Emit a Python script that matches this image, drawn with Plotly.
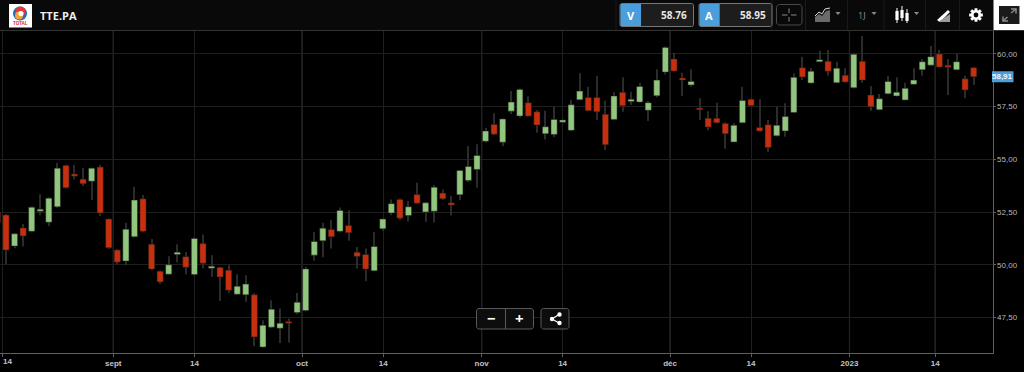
import math
import plotly.graph_objects as go

W, H = 1024, 372

# Daily sessions, mid-August 2022 to January 2023
open_ = [52.50,52.36,50.89,51.75,51.59,52.54,52.02,52.75,54.71,54.30,54.06,53.96,54.63,52.17,50.70,50.18,51.33,53.13,50.98,49.70,
         49.56,50.49,50.39,49.54,51.01,49.84,49.88,49.75,48.61,48.58,48.58,46.11,47.05,47.00,47.32,47.74,47.84,50.46,51.14,51.68,
         51.59,51.87,50.60,50.49,49.72,51.71,52.46,53.10,52.34,53.33,52.51,52.54,53.40,52.94,53.32,54.00,54.52,55.85,56.65,55.81,
         57.28,57.05,57.68,57.25,56.21,56.18,56.76,56.37,57.82,57.93,57.93,57.13,56.89,58.17,57.74,57.71,57.32,58.01,59.13,59.75,
         58.85,58.52,57.43,56.94,56.94,56.70,55.82,56.73,57.84,56.51,56.64,56.11,56.34,57.22,59.34,58.61,59.62,59.64,58.63,58.98,
         58.39,59.64,58.04,57.35,58.10,58.00,57.81,58.55,59.24,59.46,59.99,59.46,59.24,58.81,59.34]
high = [52.55,52.41,51.50,51.93,52.78,53.35,53.20,54.82,54.75,54.73,54.60,54.60,54.73,52.20,50.75,51.99,53.70,53.31,51.22,49.75,
        50.41,50.98,50.61,51.30,51.44,50.45,49.91,50.00,49.56,49.51,48.67,47.38,48.33,47.93,47.46,48.67,49.91,51.56,51.99,52.12,
        52.72,52.59,50.85,50.78,51.56,52.20,53.10,53.15,53.03,53.89,52.97,53.78,53.57,53.26,54.50,55.63,55.71,56.48,57.18,56.95,
        58.23,58.35,57.99,57.33,57.30,57.49,56.90,57.81,59.07,58.44,58.96,57.77,58.20,58.88,58.20,58.63,57.76,59.26,60.35,60.05,
        59.10,59.26,57.89,57.28,57.68,56.75,56.72,58.44,57.88,57.84,56.86,57.49,57.65,59.07,59.86,59.31,60.14,60.18,59.62,59.31,
        60.05,60.84,58.47,58.09,58.94,58.88,58.63,59.31,59.75,60.36,60.18,59.75,60.02,58.96,59.38]
low = [52.00,50.03,50.79,50.87,51.55,52.35,51.83,52.70,53.62,54.06,53.73,53.07,52.31,50.75,50.03,49.98,51.30,51.55,49.75,49.09,
       49.54,50.13,49.56,49.50,49.84,49.43,48.29,48.67,48.58,48.25,46.16,46.08,47.00,46.30,46.32,47.66,47.80,50.19,50.36,50.78,
       51.55,51.14,49.83,49.23,49.70,51.60,52.35,52.12,52.06,52.89,52.04,52.01,53.07,52.34,53.07,53.93,53.65,55.80,56.15,55.63,
       57.14,56.97,57.02,56.26,55.94,56.04,56.72,56.33,57.80,57.28,56.86,55.44,56.85,57.25,57.57,57.68,56.81,57.93,59.02,59.16,
       58.00,58.44,56.86,56.38,56.70,55.50,55.80,56.70,57.50,56.30,55.36,56.08,56.07,57.20,58.75,58.58,59.60,58.96,58.60,58.64,
       58.35,58.63,57.30,57.32,58.08,57.98,57.79,58.53,58.96,59.44,59.35,58.04,59.20,57.89,58.52]
close = [52.02,50.70,51.47,51.37,52.73,52.64,53.16,54.58,53.65,54.20,53.84,54.58,52.46,50.81,50.13,51.69,53.07,51.59,49.80,49.19,
         50.00,50.60,49.89,51.25,50.08,49.94,49.43,48.80,48.99,49.09,46.59,47.14,47.90,47.24,47.24,48.23,49.81,51.11,51.74,51.33,
         52.58,51.52,50.40,49.80,50.87,52.17,52.90,52.21,52.75,52.92,52.94,53.68,53.13,52.83,54.47,54.66,55.18,56.34,56.19,56.91,
         57.71,58.31,57.05,56.62,56.54,56.89,56.86,57.58,58.23,57.30,57.25,55.69,58.00,57.54,57.84,58.45,57.68,58.75,60.30,59.18,
         58.75,58.69,57.35,56.53,56.73,56.21,56.61,57.79,57.54,56.34,55.56,56.61,57.03,58.88,58.90,59.17,59.72,59.17,59.31,58.66,
         59.97,58.75,57.49,57.87,58.69,58.18,58.36,58.75,59.62,59.86,59.37,59.36,59.62,58.28,58.91]
sessions = list(range(len(close)))

tick_positions = [0.61, 13.53, 23.0, 35.57, 45.06, 56.55, 66.0, 78.55, 88.0, 99.5, 109.5]
tick_labels = ["14", "sept", "14", "oct", "14", "nov", "14", "déc", "14", "2023", "14"]
month_positions = [13.53, 35.57, 56.55, 78.55, 99.5, 109.5]
price_ticks = [47.5, 50.0, 52.5, 55.0, 57.5, 60.0]

ticker = "TTE.PA"
bid_label, bid_price = "V", "58.76"
ask_label, ask_price = "A", "58.95"
interval_label = "1J"

GREEN, RED = "#92c67e", "#c6300f"
WICK = "#2b2b2b"
BLUE = "#4a9edb"


def X(px):
    return px / W


def Y(py):
    return 1 - py / H


shapes = []
annotations = []


def path(d_pts, close_path=False, **kw):
    d = "M" + " L".join(f"{X(a):.5f},{Y(b):.5f}" for a, b in d_pts) + (" Z" if close_path else "")
    shapes.append(dict(type="path", xref="paper", yref="paper", path=d, **kw))


def rrect(x0, y0, x1, y1, r=2, fill=None, line=None, lw=1):
    pts = []
    for cx, cy, a0 in [(x1 - r, y0 + r, -90), (x1 - r, y1 - r, 0), (x0 + r, y1 - r, 90), (x0 + r, y0 + r, 180)]:
        for k in range(5):
            a = math.radians(a0 + k * 22.5)
            pts.append((cx + r * math.cos(a), cy + r * math.sin(a)))
    path(pts, True, fillcolor=fill or "rgba(0,0,0,0)",
         line=dict(color=line or "rgba(0,0,0,0)", width=lw if line else 0))


def seg(x0, y0, x1, y1, color, lw=1):
    shapes.append(dict(type="line", xref="paper", yref="paper", x0=X(x0), x1=X(x1), y0=Y(y0), y1=Y(y1),
                       line=dict(color=color, width=lw)))


def rect(x0, y0, x1, y1, fill):
    shapes.append(dict(type="rect", xref="paper", yref="paper", x0=X(x0), x1=X(x1), y0=Y(y0), y1=Y(y1),
                       fillcolor=fill, line=dict(width=0)))


def circle(cx, cy, r, fill):
    shapes.append(dict(type="circle", xref="paper", yref="paper", x0=X(cx - r), x1=X(cx + r), y0=Y(cy - r),
                       y1=Y(cy + r), fillcolor=fill, line=dict(width=0)))


def label(x, y, text, size=10, color="#ffffff", bold=False, anchor="center", family="Roboto"):
    annotations.append(dict(xref="paper", yref="paper", x=X(x), y=Y(y), text=f"<b>{text}</b>" if bold else text,
                            showarrow=False, xanchor=anchor, yanchor="middle",
                            font=dict(size=size, color=color, family=family)))


def caret(cx, cy, color="#8a8a8a"):
    path([(cx - 2.5, cy - 1.5), (cx + 2.5, cy - 1.5), (cx, cy + 1.5)], True, fillcolor=color, line=dict(width=0))


# header band
rect(0, 0, W, 30, "#090909")
seg(0, 30.5, W, 30.5, "#333333")
for sx in [616, 772, 805.5, 847.5, 884, 925.5, 959.5]:
    seg(sx, 0, sx, 30, "#1a1a1a")

# logo
rect(9, 4, 32, 27.5, "#ffffff")
circle(20, 13.5, 7, "#2a6db5")
circle(20.5, 11.5, 5, "#e23a35")
circle(19, 15.5, 4, "#f0a33a")
circle(21, 13.5, 2.6, "#ffffff")
label(20.5, 24, "TOTAL", size=4.5, color="#d8232a", bold=True, family="Liberation Sans")
label(38, 15.5, ticker, size=11, color="#eeeeee", bold=True, anchor="left", family="Open Sans")

# bid and ask boxes
for x0, x1, xb, name, val in [(620, 693.5, 641, bid_label, bid_price), (699, 772, 719.7, ask_label, ask_price)]:
    rrect(x0, 3.5, x1, 26.5, r=2, fill="#1d1d1d", line="#777777")
    rect(x0 + 0.5, 4, xb, 26, BLUE)
    label((x0 + xb) / 2, 15.5, name, size=11, bold=True, family="Open Sans")
    label(x1 - 4.5, 15.5, val, size=10, color="#e6e6e6", bold=True, anchor="right", family="Open Sans")

# crosshair toggle
rrect(776.5, 4.5, 802, 25, r=3, line="#4a4a4a")
seg(782, 15, 787.5, 15, "#8a8a8a")
seg(791, 15, 796.5, 15, "#8a8a8a")
seg(789, 8.5, 789, 13, "#8a8a8a")
seg(789, 17, 789, 21.5, "#8a8a8a")

# chart-type icon
path([(815, 22), (815, 17), (819, 14), (822, 16), (826, 11), (830, 10), (830, 22)], True, fillcolor="#6a6a6a", line=dict(width=0))
path([(815, 16), (819, 12), (822, 14), (825, 9), (830, 8)], line=dict(color="#dddddd", width=1))
caret(838, 13.5)

# interval
label(862, 15.5, interval_label, size=9, color="#8f8f8f", family="Open Sans")
caret(874, 13.5)

# candle icon
for cx, y0, y1, yl0, yl1 in [(897, 11, 20, 8, 23), (902, 10, 18, 6, 21), (907, 13, 21, 9, 23)]:
    seg(cx, yl0, cx, yl1, "#ffffff")
    rect(cx - 1.6, y0, cx + 1.6, y1, "#ffffff")
caret(916.5, 13.5)

# drawing-tool icon
path([(937, 20), (948, 10), (950, 12), (940, 22)], True, fillcolor="#ffffff", line=dict(width=0))
path([(938, 22), (950, 14), (950, 22)], True, fillcolor="#9a9a9a", line=dict(width=0))

# settings gear
gear = []
for k in range(8):
    a = k * math.pi / 4
    for da, r in [(-0.30, 5.1), (-0.20, 7.0), (0.20, 7.0), (0.30, 5.1)]:
        gear.append((976 + r * math.cos(a + da), 15 + r * math.sin(a + da)))
path(gear, True, fillcolor="#ffffff", line=dict(width=0))
circle(976, 15, 2.4, "#090909")

# full-screen button
rect(993.5, 0, W, 30, "#ffffff")
rect(999, 6, 1019.5, 24, "#1a1a1a")
seg(1003, 21, 1007.5, 17, "#8a8a8a", 1.5)
seg(1011, 13, 1016, 9, "#8a8a8a", 1.5)
path([(1011, 9), (1016, 9), (1016, 13.5)], line=dict(color="#8a8a8a", width=1.5))
path([(1003, 16.5), (1003, 21), (1008, 21)], line=dict(color="#8a8a8a", width=1.5))

# zoom and share buttons
rrect(476.5, 308.5, 533.5, 329, r=2.5, fill="#0d0d0d", line="#5a5a5a")
seg(505.5, 308.5, 505.5, 329, "#5a5a5a")
rrect(541, 308.5, 569, 329, r=2.5, fill="#0d0d0d", line="#5a5a5a")
label(491.3, 318, "−", size=15, bold=True, family="Open Sans")
label(519.3, 318, "+", size=15, bold=True, family="Open Sans")
path([(559, 314.5), (552, 319), (559, 323)], line=dict(color="#ffffff", width=1.2))
circle(552, 319, 2.2, "#ffffff")
circle(559.5, 314.5, 2.2, "#ffffff")
circle(559.5, 323, 2.2, "#ffffff")

# last-price badge
badge_y = close[-1]
shapes.append(dict(type="rect", xref="paper", yref="y", x0=X(992), x1=X(1013.5), y0=badge_y - 0.26, y1=badge_y + 0.26,
                   fillcolor=BLUE, line=dict(width=0)))
annotations.append(dict(xref="paper", yref="y", x=X(1002.8), y=badge_y, text=f"<b>{close[-1]:.2f}</b>".replace(".", ","),
                        showarrow=False, xanchor="center", yanchor="middle",
                        font=dict(size=8, color="#eef6fc", family="Liberation Sans")))

# brighter month grid lines
for pos in month_positions:
    shapes.append(dict(type="line", xref="x", yref="y domain", x0=pos, x1=pos, y0=0, y1=1, layer="below",
                       line=dict(color="#333333", width=1.2)))

# first tick label sits at the left edge of the window
label(0.5, 361, tick_labels[0], size=8, color="#c4c4c4", bold=True, anchor="left", family="Liberation Sans")

body_base = [min(o, c) for o, c in zip(open_, close)]
body_size = [abs(c - o) for o, c in zip(open_, close)]
body_color = [GREEN if c > o else RED for o, c in zip(open_, close)]
wick_size = [h - l for h, l in zip(high, low)]

fig = go.Figure()
fig.add_trace(go.Bar(x=sessions, base=low, y=wick_size, width=0.12,
                     marker=dict(color=WICK, line=dict(width=0)), showlegend=False))
fig.add_trace(go.Bar(x=sessions, base=body_base, y=body_size, width=0.72,
                     marker=dict(color=body_color, line=dict(color="#1c1c1c", width=0.5)), showlegend=False))

fig.update_layout(
    width=W, height=H, autosize=False,
    margin=dict(l=0, r=0, t=0, b=0, pad=0),
    paper_bgcolor="#000000", plot_bgcolor="#000000",
    showlegend=False, separators=",.", barmode="overlay",
    shapes=shapes, annotations=annotations,
    xaxis=dict(
        domain=[0, 992.5 / W], range=[0.3, 116.2], rangeslider=dict(visible=False),
        tickmode="array", tickvals=tick_positions,
        ticktext=[f"<b>{t}</b>" for t in tick_labels],
        showgrid=True, gridcolor="#1f1f1f", gridwidth=1, zeroline=False,
        showline=True, linecolor="#5f5f5f", linewidth=1,
        ticks="outside", ticklen=3, tickcolor="#5f5f5f",
        tickfont=dict(size=8, color="#c4c4c4", family="Liberation Sans"),
    ),
    yaxis=dict(
        domain=[1 - 352.5 / H, 1 - 30.5 / H], range=[45.85, 61.10], side="right",
        tickmode="array", tickvals=price_ticks, tickformat=".2f",
        showgrid=True, gridcolor="#1f1f1f", gridwidth=1, zeroline=False,
        showline=True, linecolor="#5f5f5f", linewidth=1,
        ticks="outside", ticklen=2, tickcolor="#5f5f5f",
        tickfont=dict(size=8, color="#b8b8b8", family="Liberation Sans"),
    ),
)

fig.write_html("out.html", config=dict(displayModeBar=False),
               post_script="document.body.style.margin='0';document.body.style.background='#000';")
